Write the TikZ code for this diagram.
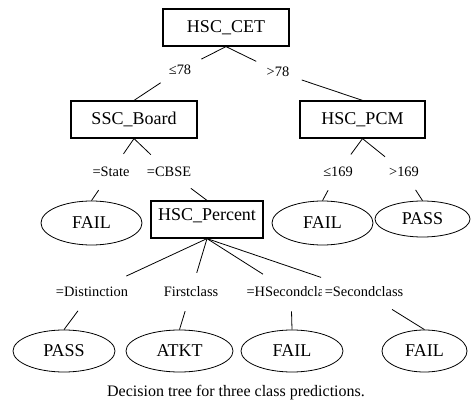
\documentclass[tikz,border=0pt]{standalone}
\usepackage{fontspec}
\setmainfont{Liberation Serif}
\usetikzlibrary{shapes.geometric}
\tikzset{
  attr/.style={draw, line width=1.2pt, minimum width=126pt, minimum height=37pt, inner sep=2pt, font=\fontsize{18}{20}\selectfont},
  leaf/.style={draw, ellipse, line width=0.8pt, minimum width=101pt, minimum height=42pt, inner sep=0pt, font=\fontsize{18}{20}\selectfont},
  cond/.style={ellipse, inner xsep=7pt, inner ysep=9pt, text height=9pt, text depth=0pt, font=\fontsize{14.4}{16}\selectfont},
  link/.style={line width=0.8pt},
}

\begin{document}
\begin{tikzpicture}[x=1pt, y=-1pt]
\useasboundingbox (0,0) rectangle (471,403);
% First the attribute boxes
\node[attr] (cet)   at (226,27.5)  {HSC\_CET};
\node[attr] (board) at (134,119.5) {SSC\_Board};
\node[attr, minimum width=125pt] (pcm) at (362.5,119.5) {HSC\_PCM};
\node[attr, minimum width=112pt, text depth=9pt] (pct) at (207,219.5) {HSC\_Percent};

% Now the leaves
\node[leaf, minimum height=44pt] (fail1) at (91.5,223)  {FAIL};
\node[leaf, minimum height=44pt] (fail2) at (322.5,223) {FAIL};
\node[leaf, minimum width=95pt, minimum height=36pt] (pass1) at (422.5,219) {PASS};
\node[leaf, minimum width=102pt] (pass2) at (64,351)    {PASS};
\node[leaf, minimum width=107pt] (atkt)  at (179.5,351) {ATKT};
\node[leaf, minimum width=102pt] (fail3) at (292,351)   {FAIL};
\node[leaf, minimum width=85pt]  (fail4) at (424.5,351) {FAIL};

% Now the split conditions
\node[cond] (l78)   at (180,70)  {≤78};
\node[cond] (g78)   at (278,72)  {>78};
\node[cond] (state) at (111,172) {=State};
\node[cond] (cbse)  at (169,172) {=CBSE};
\node[cond] (le169) at (338,172) {≤169};
\node[cond] (gt169) at (404,172) {>169};
\node[cond] (dist)  at (92,292)  {=Distinction};
\node[cond] (first) at (191,292) {Firstclass};
\node[cond] (hsec)  at (291,292) {=HSecondclass};
\node[cond, label={[fill=white, inner xsep=3pt, inner ysep=1pt, font=\fontsize{14.4}{16}\selectfont]center:=Secondclass}] (sec) at (364,292) {\phantom{=Secondclass}};

% the branches, broken by their conditions
\foreach \p/\c/\k in {cet/l78/board, cet/g78/pcm, board/state/fail1, board/cbse/pct,
    pcm/le169/fail2, pcm/gt169/pass1, pct/dist/pass2, pct/first/atkt, pct/hsec/fail3, pct/sec/fail4}
  \draw[link] (\p.south) -- (\c) -- (\k.north);

\node[font=\fontsize{16}{18}\selectfont] (cap) at (236,393) {Decision tree for three class predictions.};
\end{tikzpicture}
\end{document}
